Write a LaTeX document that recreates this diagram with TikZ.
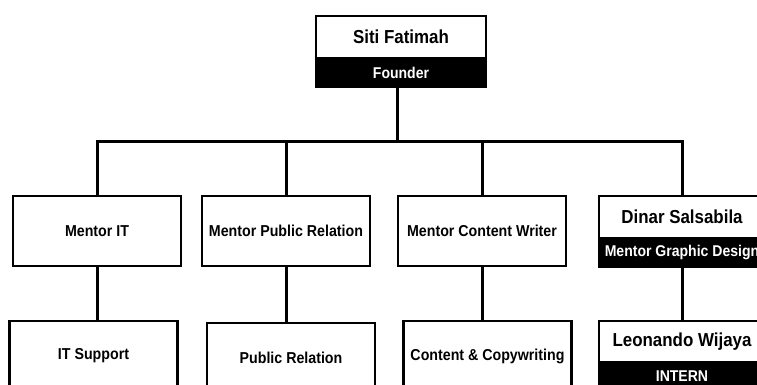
\documentclass[tikz,border=0pt]{standalone}
\usepackage{fontspec}
\setmainfont{Liberation Sans}
\newfontfamily\boxfont[FakeStretch=0.9]{Liberation Sans}
\usetikzlibrary{positioning}
\begin{document}
\begin{tikzpicture}[x=0.5pt,y=-0.5pt]
    \tikzset{box/.style = {shape=rectangle,draw,line width=1.2pt,outer sep=0pt,inner sep=0pt,minimum width=84pt,minimum height=35pt,font=\boxfont\bfseries\fontsize{7.9}{9}\selectfont}}
    \tikzset{namebox/.style = {box,minimum width=84pt,minimum height=21pt,font=\boxfont\bfseries\fontsize{9.4}{11}\selectfont}}
    \tikzset{rolebox/.style = {box,fill=black,text=white,minimum width=84pt,minimum height=14.5pt,font=\boxfont\bfseries\fontsize{7.8}{9}\selectfont}}
    \tikzset{edge/.style = {-,line width=1.5pt}}
    \useasboundingbox (0,0) rectangle (757,385);
    \clip (0,0) rectangle (757,385);
    % founder on top
    \node[namebox,minimum width=85pt] (founder) at (401,37) {Siti Fatimah};
    \node[rolebox,minimum width=85pt,below=0pt of founder] (founderrole) {Founder};
    % mentors
    \node[box] (mit) at (97,231) {Mentor IT};
    \node[box] (mpr) at (286,231) {Mentor Public Relation};
    \node[box] (mcw) at (482,231) {Mentor Content Writer};
    \node[namebox,minimum width=83pt] (dinar) at (682,217) {Dinar Salsabila};
    \node[rolebox,minimum width=83pt,below=0pt of dinar] (dinarrole) {Mentor Graphic Design};
    % staff below the mentors
    \node[box] (itsup) at (93.5,356) {IT Support};
    \node[box] (pr) at (291,358) {Public Relation};
    \node[box] (cc) at (487.5,356) {Content \& Copywriting};
    \node[namebox,minimum width=83pt,minimum height=20.5pt] (leonando) at (682,341.5) {Leonando Wijaya};
    \node[rolebox,minimum width=83pt,below=0pt of leonando] (leonandorole) {INTERN};
    % lines
    \coordinate (bus) at (397,142);
    \draw[edge] (founderrole.south -| bus) -- (bus);
    \draw[edge] (mit.north) |- (bus) -| (dinar.north);
    \draw[edge] (mpr.north) -- (mpr.north |- bus);
    \draw[edge] (mcw.north) -- (mcw.north |- bus);
    \draw[edge] (mit.south) -- (mit.south |- itsup.north);
    \draw[edge] (mpr.south) -- (mpr.south |- pr.north);
    \draw[edge] (mcw.south) -- (mcw.south |- cc.north);
    \draw[edge] (dinarrole.south) -- (leonando.north);
\end{tikzpicture}
\end{document}
